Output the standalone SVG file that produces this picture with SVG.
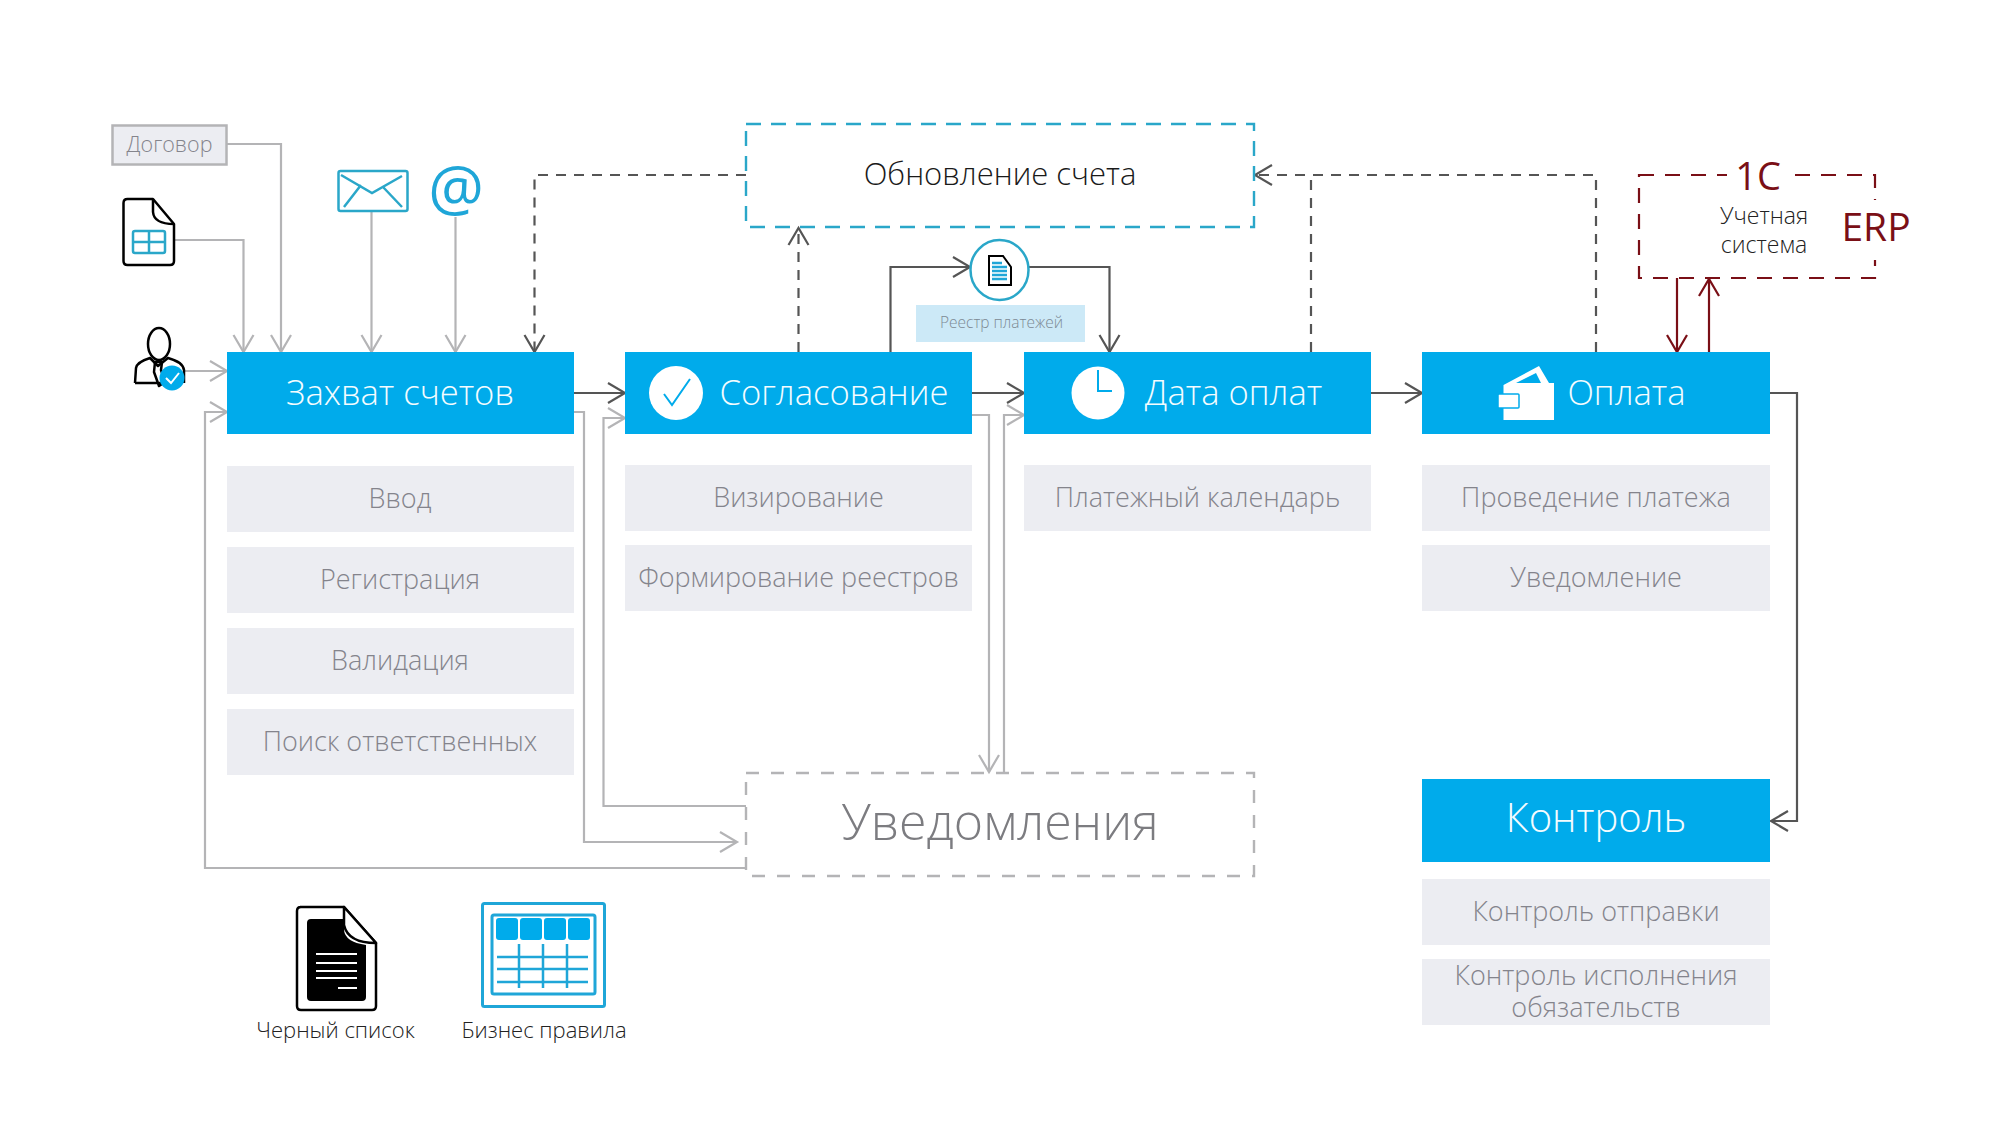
<svg xmlns="http://www.w3.org/2000/svg" width="2000" height="1125" viewBox="0 0 2000 1125">
<style>
text{font-family:"Open Sans","Noto Sans","Liberation Sans",sans-serif;font-weight:300;text-anchor:middle}
.b{fill:#00abeb}
.g{fill:#ecedf2}
.bt{fill:#f4fcff;font-size:34.6px}
.gt{fill:#84848c;font-size:27px}
.k{fill:#222;font-size:22px}
.r{fill:#7a0f16}
.lg,.ld,.lr,.dd{fill:none;stroke-linejoin:miter}
.lg{stroke:#b4b4b6;stroke-width:2.2;marker-end:url(#ag)}
.ld{stroke:#555;stroke-width:2.2;marker-end:url(#ad)}
.dd{stroke:#555;stroke-width:2.2;stroke-dasharray:10 8;marker-end:url(#ad)}
.lr{stroke:#7a0f16;stroke-width:2.2;marker-end:url(#ar)}
.bs{fill:none;stroke:#2aa7c9;stroke-width:2.4}
.ic{fill:none;stroke:#000;stroke-width:2.5;stroke-linejoin:round}
</style>
<defs>
<marker id="ag" markerUnits="userSpaceOnUse" markerWidth="24" markerHeight="26" refX="21" refY="13" orient="auto"><path d="M4 3L21 13L4 23" fill="none" stroke="#b4b4b6" stroke-width="2.2"/></marker>
<marker id="ad" markerUnits="userSpaceOnUse" markerWidth="24" markerHeight="26" refX="21" refY="13" orient="auto"><path d="M4 3L21 13L4 23" fill="none" stroke="#555" stroke-width="2.2"/></marker>
<marker id="ar" markerUnits="userSpaceOnUse" markerWidth="24" markerHeight="26" refX="21" refY="13" orient="auto"><path d="M4 3L21 13L4 23" fill="none" stroke="#7a0f16" stroke-width="2.2"/></marker>
</defs>
<rect width="2000" height="1125" fill="#fff"/>

<g id="connectors">
<path class="lg" d="M227 144H281V352"/>
<path class="lg" d="M175 240H243.500V352"/>
<path class="lg" d="M371.500 212V352"/>
<path class="lg" d="M455.500 217V352"/>
<path class="lg" d="M185 371H227"/>
<path class="dd" d="M746 175H534.500V352"/>
<path class="lg" d="M746 868H205V412H227"/>
<path class="ld" d="M574 393H625"/>
<path class="lg" d="M574 412H584V842H737"/>
<path class="lg" d="M746 806H603.500V418H625"/>
<path class="ld" d="M972 393H1024"/>
<path class="lg" d="M972 415H989V772"/>
<path class="lg" d="M1004 773V415H1024"/>
<path class="dd" d="M798.500 352V228"/>
<path class="ld" d="M890.500 352V267H970"/>
<path class="ld" d="M1028 267H1109.500V352"/>
<path class="dd" d="M1596 352V175H1255"/>
<path class="dd" style="marker-end:none" d="M1311 352V175"/>
<path class="ld" d="M1371 393H1422"/>
<path class="ld" d="M1770 393H1797V821H1771"/>
<path class="lr" d="M1677 278V352"/>
<path class="lr" d="M1709 352V279"/>
</g>

<g id="dogovor"><rect x="112.500" y="125.500" width="114" height="39" fill="#ecedf2" stroke="#b4b4b6" stroke-width="2.500"/><text x="169.500" y="152" fill="#84848c" font-size="21.500">Договор</text></g>

<g id="doc-table">
<path class="ic" d="M123.500 203Q123.500 199 127.500 199H153L174 224V261Q174 265 170 265H127.500Q123.500 265 123.500 261Z" fill="#fff"/>
<path class="ic" d="M153 199V212Q154 224 174 224"/>
<rect x="133" y="231" width="32" height="22" rx="2" fill="none" stroke="#2aa7c9" stroke-width="2.500"/>
<path d="M133 242H165M149 231V253" fill="none" stroke="#2aa7c9" stroke-width="2.500"/>
</g>

<g id="user">
<ellipse cx="159" cy="344" rx="11" ry="16" fill="#fff" stroke="#000" stroke-width="2.500"/>
<path class="ic" d="M135 383L136 368Q137 362 150 358L158 366L168 358Q183 362 184 370V383"/>
<path class="ic" d="M135 383H165M155 362H162L161 370L165 382L159 386L154 372Z"/>
<circle cx="172" cy="378" r="12.500" fill="#00abeb"/>
<path d="M166 378L171 383L179 373" fill="none" stroke="#fff" stroke-width="2"/>
</g>

<g id="envelope">
<rect x="338.500" y="171" width="69" height="40" rx="2" fill="#fff" stroke="#2aa7c9" stroke-width="2.500"/>
<path d="M341 175L372 193L402 176M344 207L361 185M402 207L383 187" fill="none" stroke="#2aa7c9" stroke-width="2.500"/>
</g>
<g id="at"><text x="456" y="211" fill="#1fa6d8" font-size="62" style="font-weight:400">@</text></g>

<g id="zahvat"><rect class="b" x="227" y="352" width="347" height="82"/><text class="bt" x="400" y="405">Захват счетов</text></g>
<g id="soglas"><rect class="b" x="625" y="352" width="347" height="82"/><circle cx="676" cy="393" r="27" fill="#fff"/><path d="M664 394L672 405L690 379" fill="none" stroke="#00abeb" stroke-width="2"/><text class="bt" x="834" y="405">Согласование</text></g>
<g id="data"><rect class="b" x="1024" y="352" width="347" height="82"/><circle cx="1098" cy="393" r="26.500" fill="#fff"/><path d="M1098 370V391H1112" fill="none" stroke="#00abeb" stroke-width="2"/><text class="bt" x="1233.500" y="405">Дата оплат</text></g>
<g id="oplata"><rect class="b" x="1422" y="352" width="348" height="82"/>
<path d="M1503.500 385L1539 366L1549 383H1554V420H1503.500Z" fill="#fff"/>
<path d="M1516 383L1536 373L1541 383Z" fill="#00abeb"/>
<rect x="1498" y="394" width="21" height="14" rx="1" fill="#fff" stroke="#00abeb" stroke-width="1.500"/>
<text class="bt" x="1626.500" y="405">Оплата</text></g>
<g id="kontrol"><rect class="b" x="1422" y="779" width="348" height="83"/><text class="bt" x="1596" y="832" style="font-size:40px">Контроль</text></g>

<g id="z1"><rect class="g" x="227" y="466" width="347" height="66"/><text class="gt" x="400" y="508">Ввод</text></g>
<g id="z2"><rect class="g" x="227" y="547" width="347" height="66"/><text class="gt" x="400" y="589">Регистрация</text></g>
<g id="z3"><rect class="g" x="227" y="628" width="347" height="66"/><text class="gt" x="400" y="670">Валидация</text></g>
<g id="z4"><rect class="g" x="227" y="709" width="347" height="66"/><text class="gt" x="400" y="751">Поиск ответственных</text></g>
<g id="s1"><rect class="g" x="625" y="465" width="347" height="66"/><text class="gt" x="798.500" y="507">Визирование</text></g>
<g id="s2"><rect class="g" x="625" y="545" width="347" height="66"/><text class="gt" x="798.500" y="587">Формирование реестров</text></g>
<g id="d1"><rect class="g" x="1024" y="465" width="347" height="66"/><text class="gt" x="1197.500" y="507">Платежный календарь</text></g>
<g id="o1"><rect class="g" x="1422" y="465" width="348" height="66"/><text class="gt" x="1596" y="507">Проведение платежа</text></g>
<g id="o2"><rect class="g" x="1422" y="545" width="348" height="66"/><text class="gt" x="1596" y="587">Уведомление</text></g>
<g id="k1"><rect class="g" x="1422" y="879" width="348" height="66"/><text class="gt" x="1596" y="921">Контроль отправки</text></g>
<g id="k2"><rect class="g" x="1422" y="959" width="348" height="66"/><text class="gt" y="985"><tspan x="1596">Контроль исполнения</tspan><tspan x="1596" dy="32">обязательств</tspan></text></g>

<g id="obnovlenie"><rect class="bs" x="746" y="124" width="508" height="103" stroke-dasharray="15 10"/><text x="1000" y="185" fill="#1a1a1a" font-size="31">Обновление счета</text></g>

<g id="reestr">
<ellipse cx="999.500" cy="270" rx="29" ry="30" fill="#fff" stroke="#2aa7c9" stroke-width="2.500"/>
<path d="M989 256H1003L1011 267V285H989Z" fill="#fff" stroke="#000" stroke-width="2"/>
<path d="M992 263H1002M992 267H1007M992 271H1007M992 275H1007M992 279H1007" stroke="#1fa6d8" stroke-width="2.500" fill="none"/>
<rect x="916" y="305" width="169" height="37" fill="#cce9f7"/><text x="1001.500" y="328" fill="#7d8a94" font-size="15.500">Реестр платежей</text>
</g>

<g id="erp">
<rect x="1639" y="175" width="236" height="103" fill="none" stroke="#7a0f16" stroke-width="2.200" stroke-dasharray="15 11"/>
<rect x="1727" y="160" width="64" height="30" fill="#fff"/>
<rect x="1840" y="200" width="70" height="60" fill="#fff"/>
<text x="1758" y="190" class="r" font-size="38" style="font-weight:400">1С</text>
<text x="1876" y="241" class="r" font-size="39" style="font-weight:400">ERP</text>
<text x="1764" y="224" fill="#222" font-size="23">Учетная</text><text x="1764" y="253" fill="#222" font-size="23">система</text>
</g>

<g id="uvedomleniya"><rect x="746" y="773" width="508" height="103" fill="none" stroke="#b4b4b6" stroke-width="2.400" stroke-dasharray="13 12"/><text x="1000" y="840" fill="#7c7c80" font-size="50">Уведомления</text></g>

<g id="blacklist">
<path d="M300 907H344L376 943V1006Q376 1010 372 1010H301Q297 1010 297 1006V911Q297 907 301 907Z" fill="#fff" stroke="#000" stroke-width="2.500"/>
<path d="M311 919H344V930Q345 942 366 945V997Q366 1001 362 1001H311Q307 1001 307 997V923Q307 919 311 919Z" fill="#000"/>
<path d="M344 907L376 943Q348 943 344 925Z" fill="#fff" stroke="#000" stroke-width="2.500" stroke-linejoin="round"/>
<path d="M316 954H357M316 963H357M316 971H357M316 978H357M338 988H357" stroke="#fff" stroke-width="2" fill="none"/>
<text class="k" x="335.500" y="1038">Черный список</text>
</g>

<g id="rules">
<rect x="482.500" y="903.500" width="122" height="103" rx="2" fill="#fff" stroke="#1fa6d8" stroke-width="3"/>
<rect x="492" y="915" width="103" height="79" rx="2" fill="none" stroke="#1fa6d8" stroke-width="3"/>
<g fill="#00abeb"><rect x="496" y="918" width="22" height="22" rx="3"/><rect x="520" y="918" width="22" height="22" rx="3"/><rect x="544" y="918" width="22" height="22" rx="3"/><rect x="568" y="918" width="22" height="22" rx="3"/></g>
<path d="M497 957H588M497 969H588M497 982H588M519 944V988M543 944V988M567 944V988" stroke="#1fa6d8" stroke-width="2.500" fill="none"/>
<text class="k" x="544" y="1038">Бизнес правила</text>
</g>
</svg>
